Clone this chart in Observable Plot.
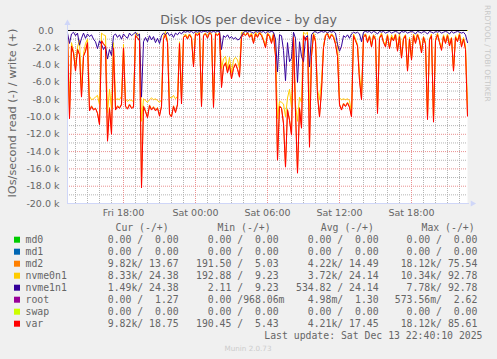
<!DOCTYPE html>
<html><head><meta charset="utf-8">
<script src="https://cdn.jsdelivr.net/npm/d3@7"></script>
<script src="https://cdn.jsdelivr.net/npm/@observablehq/plot@0.6"></script>
<style>
html,body{margin:0;padding:0;background:#F0F0F0;}
#wrap{position:relative;width:497px;height:359px;overflow:hidden;background:#F0F0F0;}
#chart{position:absolute;left:0;top:0;}
#over{position:absolute;left:0;top:0;}
</style></head>
<body><div id="wrap"><div id="chart"></div><svg id="over" width="497" height="359"></svg></div>
<script>
const chartTitle = "Disk IOs per device - by day";
const yLabel = "IOs/second read (-) / write (+)";
const watermark = "RRDTOOL / TOBI OETIKER";
const lastUpdate = "Last update: Sat Dec 13 22:40:10 2025";
const muninVersion = "Munin 2.0.73";

const seriesNames = ["md0","md1","md2","nvme0n1","nvme1n1","root","swap","var"];
const seriesColors = ["#00CC00","#0066B3","#FF8000","#FFCC00","#330099","#990099","#CCFF00","#FF0000"];
const headers = ["Cur (-/+)","Min (-/+)","Avg (-/+)","Max (-/+)"];
const curCol = ["  0.00 /  0.00 ","  0.00 /  0.00 ","  9.82k/ 13.67 ","  8.33k/ 24.38 ","  1.49k/ 24.38 ","  0.00 /  1.27 ","  0.00 /  0.00 ","  9.82k/ 18.75 "];
const minCol = ["  0.00 /  0.00 ","  0.00 /  0.00 ","191.50 /  5.03 ","192.88 /  9.23 ","  2.11 /  9.23 ","  0.00 /968.06m","  0.00 /  0.00 ","190.45 /  5.43 "];
const avgCol = ["  0.00 /  0.00 ","  0.00 /  0.00 ","  4.22k/ 14.49 ","  3.72k/ 24.14 ","534.82 / 24.14 ","  4.98m/  1.30 ","  0.00 /  0.00 ","  4.21k/ 17.45 "];
const maxCol = ["  0.00 /  0.00 ","  0.00 /  0.00 "," 18.12k/ 75.54 "," 10.34k/ 92.78 ","  7.78k/ 92.78 ","573.56m/  2.62 ","  0.00 /  0.00 "," 18.12k/ 85.61 "];

// time window (Munin day view) and axis ticks
const tStartISO = "2025-12-12T13:20:00Z";
const tEndISO = "2025-12-13T22:40:00Z";
const xTickISO = ["2025-12-12T18:00:00Z","2025-12-13T00:00:00Z","2025-12-13T06:00:00Z","2025-12-13T12:00:00Z","2025-12-13T18:00:00Z"];
const yTicks = [0,-2,-4,-6,-8,-10,-12,-14,-16,-18,-20];

// read IOs/second (thousands, shown negative), 10-minute samples from Fri 13:20 to Sat 22:40
const md2Read = [
-0.5,-10.1,-1.7,-2.6,-4.6,-2.1,-2.8,-7.6,-2.9,-2.4,
-1.3,-9.2,-8.7,-9.1,-9.0,-9.5,-10.8,-1.1,-1.5,-1.8,
-12.6,-8.9,-11.9,-1.9,-9.1,-8.7,-8.9,-8.5,-1.9,-8.7,
-9.0,-8.5,-8.9,-8.8,-0.5,-0.8,-1.1,-18.1,-8.7,-9.3,
-10.0,-8.6,-9.1,-8.8,-9.2,-8.9,-9.8,-8.7,-0.9,-0.4,
-1.3,-9.6,-9.9,-8.7,-9.4,-8.5,-1.4,-8.4,-0.7,-0.5,
-0.9,-0.4,-0.8,-4.1,-0.3,-0.5,-0.2,-8.7,-0.5,-0.3,
-0.8,-0.2,-0.4,-8.8,-0.3,-0.5,-0.2,-6.5,-4.1,-3.7,
-4.8,-3.9,-5.5,-4.3,-3.8,-4.4,-5.3,-0.7,-0.3,-0.5,
-0.2,-0.7,-0.4,-1.4,-0.3,-0.7,-0.2,-0.5,-1.1,-1.9,
-0.3,-0.6,-1.4,-0.4,-2.9,-14.9,-8.7,-8.9,-10.7,-15.7,
-9.1,-10.3,-12.0,-0.7,-9.4,-16.4,-8.9,-11.2,-0.5,-1.1,
-0.7,-13.4,-2.9,-0.4,-1.2,-7.4,-9.9,-6.9,-1.9,-0.5,
-0.3,-0.9,-0.4,-0.7,-1.5,-2.9,-8.5,-9.1,-8.4,-8.7,
-8.3,-8.8,-9.9,-0.5,-1.1,-1.7,-5.7,-7.9,-0.7,-0.4,
-1.3,-0.6,-1.8,-0.5,-1.0,-9.5,-0.8,-0.4,-1.3,-1.8,
-0.5,-2.0,-0.7,-1.1,-0.4,-2.3,-0.6,-3.1,-0.9,-0.5,
-4.6,-0.9,-3.3,-0.5,-1.4,-0.4,-1.1,-2.5,-0.7,-1.5,
-10.2,-1.0,-0.5,-10.5,-1.1,-0.4,-1.3,-2.2,-0.6,-1.4,
-0.5,-1.7,-0.8,-4.6,-0.7,-1.2,-0.4,-1.8,-0.9,-2.1,
-9.8];
const nvme0n1Read = [
-0.2,-8.7,-1.4,-2.4,-4.1,-1.9,-1.1,-6.8,-2.7,-1.5,
-1.0,-7.6,-8.0,-7.9,-7.7,-7.5,-8.6,-0.3,-0.5,-0.6,
-9.5,-6.8,-9.1,-1.4,-8.0,-7.9,-8.0,-7.6,-1.6,-7.9,
-8.2,-8.0,-8.1,-8.2,-0.4,-0.3,-0.8,-10.5,-7.9,-8.1,
-8.3,-8.0,-7.8,-8.0,-7.9,-8.1,-8.3,-8.0,-0.7,-0.1,
-1.2,-7.7,-7.8,-7.5,-7.9,-7.6,-1.3,-7.6,-0.7,-0.4,
-0.8,-0.4,-0.7,-3.9,-0.3,-0.4,-0.2,-8.6,-0.5,-0.3,
-0.7,-0.2,-0.4,-8.7,-0.3,-0.5,-0.2,-4.4,-3.3,-3.0,
-4.4,-3.1,-4.9,-3.4,-3.1,-3.4,-4.4,-0.2,-0.2,-0.5,
-0.2,-0.6,-0.3,-1.3,-0.2,-0.6,-0.2,-0.4,-1.0,-1.8,
-0.3,-0.5,-1.3,-0.3,-2.0,-10.2,-8.2,-8.3,-8.5,-10.0,
-7.8,-6.8,-8.9,-0.6,-8.6,-10.5,-7.7,-8.3,-0.2,-0.4,
-0.2,-9.3,-2.5,-0.3,-1.1,-6.8,-8.0,-5.8,-1.8,-0.5,
-0.3,-0.8,-0.4,-0.6,-1.4,-1.4,-7.8,-8.0,-7.9,-8.0,
-7.9,-8.1,-9.6,-0.4,-1.0,-1.6,-5.0,-7.5,-0.6,-0.4,
-1.2,-0.6,-1.6,-0.5,-0.9,-9.2,-0.8,-0.3,-1.3,-1.6,
-0.4,-2.0,-0.5,-1.0,-0.4,-2.2,-0.3,-3.1,-0.8,-0.5,
-4.4,-0.8,-3.3,-0.4,-1.1,-0.4,-1.0,-2.3,-0.7,-1.4,
-9.9,-1.0,-0.4,-10.3,-1.1,-0.3,-1.3,-2.0,-0.5,-1.4,
-0.4,-1.4,-0.8,-4.4,-0.6,-1.2,-0.3,-1.6,-0.8,-1.7,
-8.5];
const nvme1n1Read = [
-0.3,-1.5,-0.4,-0.2,-0.6,-0.3,-1.7,-0.9,-0.3,-0.9,
-0.4,-0.7,-0.5,-1.0,-1.3,-2.1,-1.2,-1.6,-2.2,-1.8,
-3.3,-2.2,-2.9,-0.6,-0.4,-0.8,-0.5,-1.0,-0.4,-0.7,
-0.9,-0.3,-0.6,-0.4,-0.2,-0.6,-0.4,-7.7,-1.3,-0.8,
-1.3,-0.6,-1.1,-0.7,-1.4,-0.9,-1.5,-0.6,-0.3,-0.5,
-0.2,-0.6,-0.4,-0.8,-0.3,-0.5,-0.2,-0.4,-0.1,-0.2,
-0.1,-0.2,-0.1,-0.3,-0.1,-0.2,-0.1,-0.2,-0.1,-0.1,
-0.2,-0.1,-0.2,-0.1,-0.2,-0.1,-0.1,-2.2,-0.6,-0.8,
-0.5,-0.9,-0.7,-1.0,-0.8,-1.1,-1.0,-0.6,-0.2,-0.1,
-0.2,-0.1,-0.2,-0.3,-0.1,-0.2,-0.1,-0.2,-0.1,-0.3,
-0.1,-0.2,-0.1,-0.2,-1.0,-4.8,-0.5,-0.6,-2.3,-5.8,
-1.4,-3.6,-3.2,-0.2,-0.9,-6.0,-1.3,-3.0,-3.6,-0.8,
-0.6,-4.2,-0.5,-0.2,-0.1,-0.3,-0.2,-0.1,-0.2,-0.1,
-0.3,-0.1,-0.2,-0.1,-0.3,-1.6,-2.4,-1.8,-0.6,-0.8,
-0.5,-0.9,-0.4,-0.2,-0.3,-0.2,-0.4,-1.3,-0.2,-0.1,
-0.2,-0.1,-0.3,-0.1,-0.2,-0.4,-0.1,-0.2,-0.1,-0.3,
-0.2,-0.1,-0.3,-0.2,-0.1,-0.2,-0.4,-0.1,-0.2,-0.1,
-0.3,-0.2,-0.1,-0.2,-0.4,-0.1,-0.2,-0.3,-0.1,-0.2,
-0.4,-0.1,-0.2,-0.3,-0.1,-0.2,-0.1,-0.3,-0.2,-0.1,
-0.2,-0.4,-0.1,-0.3,-0.2,-0.1,-0.2,-0.3,-0.2,-0.5,
-1.4];
const varRead = [
-0.5,-10.2,-1.8,-2.6,-4.7,-2.2,-2.8,-7.7,-3.0,-2.4,
-1.4,-9.3,-8.8,-9.2,-9.0,-9.6,-10.9,-1.2,-1.6,-1.8,
-12.8,-9.0,-12.0,-2.0,-9.2,-8.8,-9.0,-8.6,-2.0,-8.8,
-9.1,-8.6,-9.0,-8.9,-0.6,-0.9,-1.2,-18.2,-8.8,-9.4,
-10.1,-8.7,-9.2,-8.9,-9.3,-9.0,-9.9,-8.8,-1.0,-0.5,
-1.4,-9.7,-10.0,-8.8,-9.5,-8.6,-1.5,-8.5,-0.8,-0.6,
-1.0,-0.5,-0.9,-4.2,-0.4,-0.6,-0.3,-8.8,-0.6,-0.4,
-0.9,-0.3,-0.5,-8.9,-0.4,-0.6,-0.3,-6.6,-4.2,-3.8,
-4.9,-4.0,-5.6,-4.4,-3.9,-4.5,-5.4,-0.8,-0.4,-0.6,
-0.3,-0.8,-0.5,-1.5,-0.4,-0.8,-0.3,-0.6,-1.2,-2.0,
-0.4,-0.7,-1.5,-0.5,-3.0,-15.0,-8.8,-9.0,-10.8,-15.8,
-9.2,-10.4,-12.1,-0.8,-9.5,-16.5,-9.0,-11.3,-0.6,-1.2,
-0.8,-13.5,-3.0,-0.5,-1.3,-7.5,-10.0,-7.0,-2.0,-0.6,
-0.4,-1.0,-0.5,-0.8,-1.6,-3.0,-8.6,-9.2,-8.5,-8.8,
-8.4,-8.9,-10.0,-0.6,-1.2,-1.8,-5.8,-8.0,-0.8,-0.5,
-1.4,-0.7,-1.9,-0.6,-1.1,-9.6,-0.9,-0.5,-1.4,-1.9,
-0.6,-2.1,-0.8,-1.2,-0.5,-2.4,-0.7,-3.2,-1.0,-0.6,
-4.7,-1.0,-3.4,-0.6,-1.5,-0.5,-1.2,-2.6,-0.8,-1.6,
-10.3,-1.1,-0.6,-10.6,-1.2,-0.5,-1.4,-2.3,-0.7,-1.5,
-0.6,-1.8,-0.9,-4.7,-0.8,-1.3,-0.5,-1.9,-1.0,-2.2,
-9.9];
// md0, md1, root, swap stay at zero at this scale
const zeroRead = [0, 0];

const readBySeries = {md0: zeroRead, md1: zeroRead, md2: md2Read, nvme0n1: nvme0n1Read,
  nvme1n1: nvme1n1Read, root: zeroRead, swap: zeroRead, "var": varRead};

const tStart = new Date(tStartISO), tEnd = new Date(tEndISO);
const span = tEnd - tStart;
function rowsOf(name) {
  const vals = readBySeries[name];
  const n = vals.length;
  return vals.map((v, i) => ({t: new Date(+tStart + i * span / (n - 1)), v}));
}

const hours = d3.utcHour.range(new Date(+tStart + 1), tEnd);
const majorX = hours.filter(d => d.getUTCHours() % 6 === 0);
const minorX = hours.filter(d => d.getUTCHours() % 6 !== 0);
const majorY = yTicks.filter(v => v !== 0 && v !== -20);
const minorY = d3.range(-19, 0, 2);
const xTicks = xTickISO.map(s => new Date(s));

const minute = 60000;
const axisColor = "#CFD6F8";

const chart = Plot.plot({
  width: 497, height: 222,
  marginLeft: 67, marginRight: 30, marginTop: 30, marginBottom: 19,
  style: {background: "transparent", fontFamily: "'DejaVu Sans', sans-serif", fontSize: "9.5px", color: "#666666"},
  x: {type: "utc", domain: [tStart, tEnd]},
  y: {domain: [-20, 0]},
  marks: [
    Plot.frame({fill: "#FFFFFF", stroke: "none"}),
    Plot.ruleX(minorX, {stroke: "#b4b4b4", strokeDasharray: "1,1"}),
    Plot.ruleY(minorY, {stroke: "#b4b4b4", strokeDasharray: "1,1"}),
    Plot.ruleX(majorX, {stroke: "#e99090", strokeDasharray: "1,1"}),
    Plot.ruleY(majorY, {stroke: "#e99090", strokeDasharray: "1,1"}),
    ...seriesNames.map((name, k) => Plot.line(rowsOf(name), {x: "t", y: "v", stroke: seriesColors[k], strokeWidth: 1})),
    Plot.ruleY([0], {stroke: "#000000", strokeWidth: 1}),
    Plot.ruleX([tStart], {y1: -20, y2: 0.7, stroke: axisColor}),
    Plot.ruleY([-20], {x1: tStart, x2: new Date(+tEnd + 10 * minute), stroke: axisColor}),
    Plot.dot([{t: tStart, v: 0.85}], {x: "t", y: "v", symbol: "triangle", r: 2.3, fill: axisColor, stroke: "none"}),
    Plot.dot([{t: new Date(+tEnd + 25 * minute), v: -20}], {x: "t", y: "v", symbol: "triangle", r: 2.3, rotate: 90, fill: axisColor, stroke: "none"}),
    Plot.axisX(xTicks, {tickSize: 0, tickPadding: 6, tickFormat: d3.utcFormat("%a %H:%M"), label: null, fill: "#666666", fontSize: 9.5}),
    Plot.axisY(yTicks, {tickSize: 0, tickPadding: 8, tickFormat: v => v === 0 ? "0.0\u00a0\u00a0" : v.toFixed(1) + " k", label: null, fill: "#666666", fontSize: 9.5})
  ]
});
document.getElementById("chart").appendChild(chart);

// title, axis label, watermark and legend
const svg = d3.select("#over");
svg.append("text").attr("x", 248.5).attr("y", 24).attr("text-anchor", "middle")
  .style("font", "12.6px 'DejaVu Sans'").attr("fill", "#666666").text(chartTitle);
svg.append("text").attr("transform", "translate(15.5,113) rotate(-90)").attr("text-anchor", "middle")
  .style("font", "11.3px 'DejaVu Sans'").attr("fill", "#666666").text(yLabel);
svg.append("text").attr("transform", "translate(485,5) rotate(90)").attr("text-anchor", "start")
  .style("font", "7.5px 'DejaVu Sans'").attr("fill", "#c8c8c8").text(watermark);

const mono = "9.8px 'DejaVu Sans Mono'";
const headerX = [115.5, 217.5, 320.8, 421.5];
headers.forEach((h, j) => svg.append("text").attr("x", headerX[j]).attr("y", 231.3)
  .style("font", mono).attr("fill", "#666666").text(h));
const colRight = [184.5, 284.5, 384.5, 483.3];
const cols = [curCol, minCol, avgCol, maxCol];
seriesNames.forEach((name, k) => {
  const base = 243.3 + 12 * k;
  svg.append("rect").attr("x", 14).attr("y", base - 6.6).attr("width", 6).attr("height", 6).attr("fill", seriesColors[k]);
  svg.append("text").attr("x", 25.5).attr("y", base).style("font", mono).attr("fill", "#666666").text(name);
  cols.forEach((col, j) => svg.append("text").attr("x", colRight[j]).attr("y", base)
    .attr("text-anchor", "end").attr("xml:space", "preserve").style("white-space", "pre")
    .style("font", mono).attr("fill", "#666666").text(col[k]));
});
svg.append("text").attr("x", 482.5).attr("y", 339.3).attr("text-anchor", "end")
  .style("font", mono).attr("fill", "#666666").text(lastUpdate);
svg.append("text").attr("x", 248).attr("y", 350.5).attr("text-anchor", "middle")
  .style("font", "7.2px 'DejaVu Sans'").attr("fill", "#cccccc").text(muninVersion);
</script>
</body></html>
